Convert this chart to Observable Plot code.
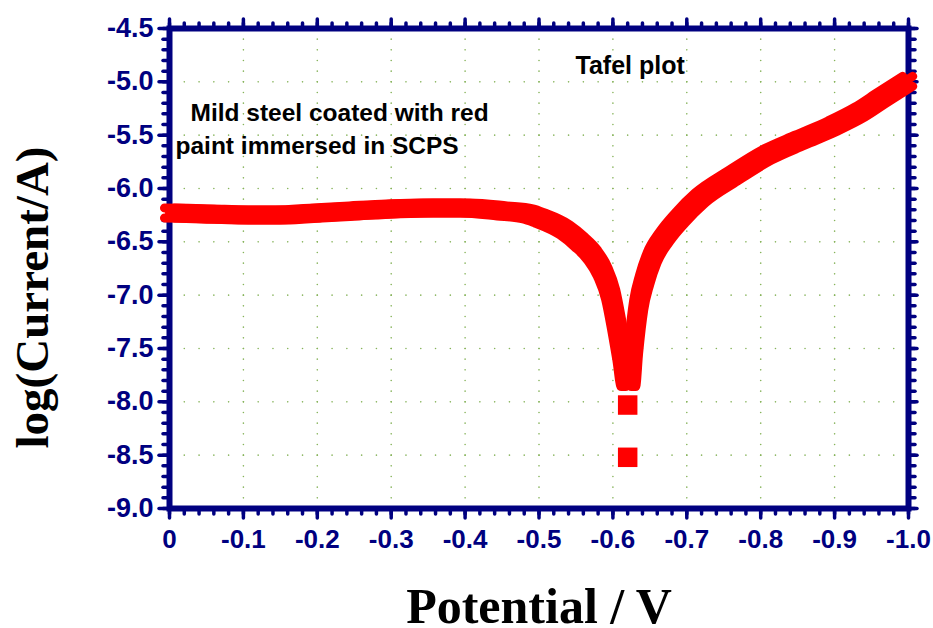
<!DOCTYPE html>
<html><head><meta charset="utf-8">
<script src="https://cdn.jsdelivr.net/npm/d3@7"></script>
<script src="https://cdn.jsdelivr.net/npm/@observablehq/plot@0.6"></script>
<style>html,body{margin:0;padding:0;background:#fff}#chart{width:933px;height:628px}</style>
</head><body><div id="chart"></div>
<script>
// Measured curve (potential in V, log current in A)
const potential = [0, -0.05, -0.1, -0.15, -0.2, -0.25, -0.3, -0.35, -0.4, -0.45, -0.485, -0.501, -0.535, -0.555, -0.572, -0.586, -0.597, -0.605, -0.612, -0.618,
  -0.624, -0.628, -0.635, -0.643, -0.653, -0.670, -0.691, -0.718, -0.762, -0.808, -0.853, -0.897, -0.934, -0.965, -0.999];
const logCurrent = [-6.229, -6.238, -6.248, -6.248, -6.229, -6.210, -6.192, -6.182, -6.182, -6.210, -6.238, -6.276, -6.388, -6.50, -6.621, -6.78, -6.995, -7.276, -7.556, -7.81,
  -7.81, -7.50, -7.09, -6.855, -6.65, -6.453, -6.276, -6.089, -5.883, -5.687, -5.547, -5.416, -5.285, -5.145, -4.995];
// isolated points near the corrosion potential
const isolatedPotential = [-0.62, -0.62];
const isolatedLogCurrent = [-8.03, -8.52];

const xTicks = [0, -0.1, -0.2, -0.3, -0.4, -0.5, -0.6, -0.7, -0.8, -0.9, -1.0];
const xTickLabels = ["0", "-0.1", "-0.2", "-0.3", "-0.4", "-0.5", "-0.6", "-0.7", "-0.8", "-0.9", "-1.0"];
const yTicks = [-4.5, -5.0, -5.5, -6.0, -6.5, -7.0, -7.5, -8.0, -8.5, -9.0];
const yTickLabels = ["-4.5", "-5.0", "-5.5", "-6.0", "-6.5", "-7.0", "-7.5", "-8.0", "-8.5", "-9.0"];
const xMinorTicks = d3.range(0, 51).map(i => -i * 0.02);
const yMinorTicks = d3.range(0, 46).map(i => -4.5 - i * 0.1);

const titleText = ["Tafel plot"];
const noteLine1 = ["Mild steel coated with red"];
const noteLine2 = ["paint immersed in SCPS"];
const xLabel = ["Potential / V"];
const yLabel = ["log(Current/A)"];

const curve = potential.map((p, i) => ({p, c: logCurrent[i]}));
const isolated = isolatedPotential.map((p, i) => ({p, c: isolatedLogCurrent[i]}));

const navy = "#000080";
const red = "#ff0000";
const gridDots = [];
for (const gx of xTicks.slice(1, -1)) for (const gy of yMinorTicks) gridDots.push({p: gx, c: gy});
for (const gy of yTicks.slice(1, -1)) for (const gx of xMinorTicks) gridDots.push({p: gx, c: gy});

const fontSans = "Liberation Sans, Arial, sans-serif";
const fontSerif = "Liberation Serif, Times New Roman, serif";

// square-marker look: the same line drawn at the four corners of a small square
const brush = [[-5, -5], [5, -5], [-5, 5], [5, 5], [0, 0]];
const lineMarks = brush.map(([dx, dy]) =>
  Plot.line(curve, {x: "p", y: "c", dx, dy, stroke: red, strokeWidth: 9, strokeLinecap: "round", strokeLinejoin: "round", curve: "monotone-x"}));

const tickStyle = {stroke: navy, strokeWidth: 3.5, strokeLinecap: "round", fill: "none", label: null};

const chart = Plot.plot({
  width: 933,
  height: 628,
  marginLeft: 169,
  marginRight: 25,
  marginTop: 28,
  marginBottom: 120,
  style: {background: "#fff", fontFamily: fontSans},
  x: {domain: [0, -1], label: null},
  y: {domain: [-9, -4.5], label: null},
  marks: [
    Plot.dot(gridDots, {x: "p", y: "c", r: 0.8, fill: "#86b35a", stroke: "none"}),
    Plot.frame({stroke: navy, strokeWidth: 6}),
    // ticks
    Plot.axisX(xTicks, {anchor: "bottom", tickSize: 10, ...tickStyle}),
    Plot.axisX(xMinorTicks, {anchor: "bottom", tickSize: 6, ...tickStyle}),
    Plot.axisX(xTicks, {anchor: "top", tickSize: 10, ...tickStyle}),
    Plot.axisX(xMinorTicks, {anchor: "top", tickSize: 6, ...tickStyle}),
    Plot.axisY(yTicks, {anchor: "left", tickSize: 10, ...tickStyle}),
    Plot.axisY(yMinorTicks, {anchor: "left", tickSize: 6, ...tickStyle}),
    Plot.axisY(yTicks, {anchor: "right", tickSize: 8, ...tickStyle}),
    Plot.axisY(yMinorTicks, {anchor: "right", tickSize: 6, ...tickStyle}),
    // tick labels
    Plot.axisX(xTicks, {anchor: "bottom", tickSize: 0, tickPadding: 21, fill: navy, fontSize: 26, fontWeight: "bold", fontFamily: fontSans,
      tickFormat: (d) => xTickLabels[xTicks.indexOf(d)], label: null}),
    Plot.axisY(yTicks, {anchor: "left", tickSize: 0, tickPadding: 16, fill: navy, fontSize: 27, fontWeight: "bold", fontFamily: fontSans,
      tickFormat: (d) => yTickLabels[yTicks.indexOf(d)], label: null}),
    // data
    ...lineMarks,
    Plot.dot(isolated, {x: "p", y: "c", symbol: "square", r: 11, fill: red, stroke: "none"}),
    // annotations
    Plot.text(titleText, {frameAnchor: "top-left", dx: 406, dy: 45, textAnchor: "start", lineAnchor: "bottom", fontSize: 25, fontWeight: "bold", fontFamily: fontSans, fill: "#000"}),
    Plot.text(noteLine1, {frameAnchor: "top-left", dx: 21, dy: 92, textAnchor: "start", lineAnchor: "bottom", fontSize: 24.5, fontWeight: "bold", fontFamily: fontSans, fill: "#000"}),
    Plot.text(noteLine2, {frameAnchor: "top-left", dx: 6, dy: 125, textAnchor: "start", lineAnchor: "bottom", fontSize: 24.5, fontWeight: "bold", fontFamily: fontSans, fill: "#000"}),
    // axis titles
    Plot.text(xLabel, {frameAnchor: "bottom", dy: 114, textAnchor: "middle", lineAnchor: "bottom", fontSize: 50, fontWeight: "bold", fontFamily: fontSerif, fill: "#000"}),
    Plot.text(yLabel, {frameAnchor: "left", dx: -122, dy: 29, rotate: -90, textAnchor: "middle", lineAnchor: "bottom", fontSize: 47, fontWeight: "bold", fontFamily: fontSerif, fill: "#000"})
  ]
});
document.getElementById("chart").appendChild(chart);
</script>
</body></html>
